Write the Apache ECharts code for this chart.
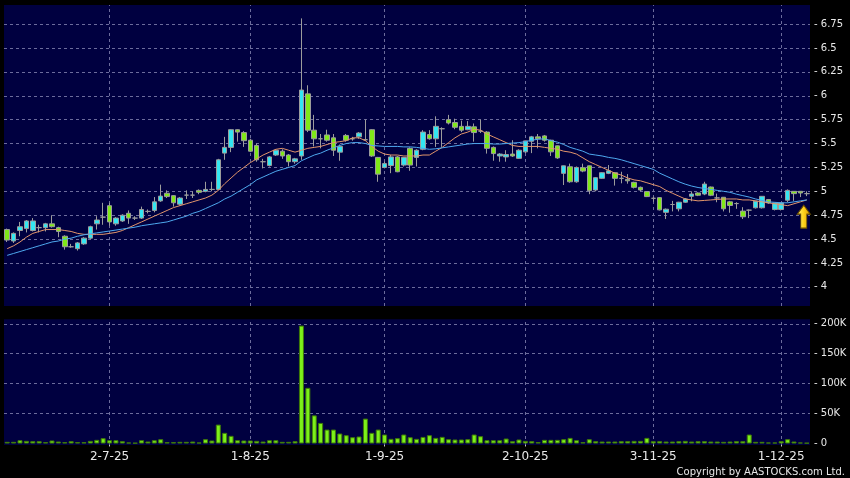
<!DOCTYPE html>
<html><head><meta charset="utf-8">
<script src="https://cdn.jsdelivr.net/npm/echarts@6/dist/echarts.min.js"></script>
<style>html,body{margin:0;padding:0;background:#000;}#c{width:850px;height:478px;}</style>
</head><body><div id="c"></div>
<script>
const dates = [
 '9-6-25','10-6-25','11-6-25','12-6-25','13-6-25','16-6-25','17-6-25','18-6-25','19-6-25','20-6-25','23-6-25','24-6-25','25-6-25','26-6-25','27-6-25','30-6-25',
 '2-7-25','3-7-25','4-7-25','7-7-25','8-7-25','9-7-25','10-7-25','11-7-25','14-7-25','15-7-25','16-7-25','17-7-25','18-7-25','21-7-25','22-7-25','23-7-25','24-7-25','25-7-25','28-7-25','29-7-25','30-7-25','31-7-25',
 '1-8-25','4-8-25','5-8-25','6-8-25','7-8-25','8-8-25','11-8-25','12-8-25','13-8-25','14-8-25','15-8-25','18-8-25','19-8-25','20-8-25','21-8-25','22-8-25','25-8-25','26-8-25','27-8-25','28-8-25','29-8-25',
 '1-9-25','2-9-25','3-9-25','4-9-25','5-9-25','8-9-25','9-9-25','10-9-25','11-9-25','12-9-25','15-9-25','16-9-25','17-9-25','18-9-25','19-9-25','22-9-25','23-9-25','24-9-25','25-9-25','26-9-25','29-9-25','30-9-25',
 '2-10-25','3-10-25','6-10-25','8-10-25','9-10-25','10-10-25','13-10-25','14-10-25','15-10-25','16-10-25','17-10-25','20-10-25','21-10-25','22-10-25','23-10-25','24-10-25','27-10-25','28-10-25','30-10-25','31-10-25',
 '3-11-25','4-11-25','5-11-25','6-11-25','7-11-25','10-11-25','11-11-25','12-11-25','13-11-25','14-11-25','17-11-25','18-11-25','19-11-25','20-11-25','21-11-25','24-11-25','25-11-25','26-11-25','27-11-25','28-11-25',
 '1-12-25','2-12-25','3-12-25','4-12-25','5-12-25'
];
const labelDates = ['2-7-25','1-8-25','1-9-25','2-10-25','3-11-25','1-12-25'];
const priceTicks = [4,4.25,4.5,4.75,5,5.25,5.5,5.75,6,6.25,6.5,6.75];
const volumeTicks = [0,50000,100000,150000,200000];

const opens = [
 4.60,4.48,4.59,4.61,4.59,4.62,4.62,4.66,4.62,4.53,
 4.42,4.40,4.45,4.51,4.66,4.73,4.85,4.66,4.69,4.77,
 4.72,4.72,4.79,4.80,4.90,4.98,4.955,4.865,4.96,4.96,
 5.01,5.00,5.02,5.02,5.40,5.46,5.645,5.615,5.535,5.48,
 5.31,5.27,5.38,5.42,5.38,5.31,5.37,6.02,5.64,5.55,
 5.59,5.56,5.41,5.585,5.55,5.57,5.54,5.645,5.355,5.25,
 5.27,5.36,5.275,5.45,5.355,5.44,5.594,5.55,5.655,5.75,
 5.72,5.68,5.645,5.675,5.63,5.62,5.46,5.37,5.36,5.39,
 5.345,5.413,5.524,5.57,5.58,5.535,5.476,5.188,5.257,5.10,
 5.247,5.267,5.014,5.136,5.188,5.195,5.136,5.125,5.094,5.042,
 4.997,4.927,4.934,4.78,4.862,4.817,4.886,4.948,4.983,4.972,
 5.045,4.931,4.938,4.89,4.872,4.793,4.803,4.828,4.828,4.914,
 4.81,4.81,4.907,5.0,5.0,4.976
];
const closes = [
 4.49,4.56,4.63,4.69,4.69,4.62,4.66,4.63,4.58,4.42,
 4.42,4.46,4.51,4.63,4.70,4.73,4.68,4.72,4.75,4.72,
 4.72,4.81,4.79,4.89,4.95,4.945,4.88,4.93,4.96,4.96,
 4.99,5.02,5.02,5.33,5.46,5.645,5.62,5.53,5.42,5.33,
 5.31,5.36,5.43,5.37,5.31,5.34,6.06,5.64,5.55,5.55,
 5.535,5.43,5.47,5.535,5.55,5.61,5.54,5.37,5.18,5.29,
 5.36,5.205,5.355,5.275,5.43,5.62,5.55,5.68,5.655,5.715,
 5.67,5.64,5.68,5.615,5.63,5.45,5.395,5.39,5.385,5.37,
 5.43,5.528,5.57,5.55,5.535,5.413,5.35,5.267,5.10,5.25,
 5.212,5.007,5.143,5.195,5.215,5.136,5.136,5.11,5.042,5.014,
 4.945,4.927,4.806,4.813,4.862,4.886,4.92,4.972,4.959,5.076,
 4.959,4.931,4.817,4.852,4.872,4.734,4.803,4.897,4.948,4.879,
 4.879,4.879,5.01,4.976,4.983,4.976
];
const lows = [
 4.47,4.46,4.53,4.57,4.58,4.57,4.58,4.62,4.52,4.39,
 4.41,4.38,4.44,4.50,4.60,4.65,4.64,4.64,4.68,4.66,
 4.70,4.71,4.77,4.78,4.89,4.93,4.84,4.85,4.92,4.93,
 4.97,4.99,5.00,5.01,5.33,5.41,5.52,5.465,5.41,5.31,
 5.24,5.26,5.37,5.34,5.26,5.29,5.33,5.62,5.47,5.45,
 5.52,5.37,5.32,5.52,5.53,5.55,5.53,5.36,5.10,5.24,
 5.19,5.20,5.26,5.215,5.26,5.43,5.54,5.465,5.465,5.70,
 5.65,5.62,5.64,5.52,5.61,5.395,5.32,5.31,5.31,5.36,
 5.34,5.40,5.40,5.45,5.52,5.37,5.34,5.066,5.09,5.09,
 5.20,4.97,5.00,5.13,5.18,5.06,5.084,5.08,5.03,5.00,
 4.94,4.89,4.80,4.71,4.79,4.79,4.88,4.896,4.95,4.96,
 4.95,4.886,4.79,4.776,4.817,4.71,4.72,4.82,4.82,4.87,
 4.80,4.80,4.885,4.90,4.94,4.95
];
const highs = [
 4.61,4.57,4.68,4.70,4.72,4.65,4.67,4.75,4.63,4.54,
 4.45,4.47,4.52,4.64,4.74,4.88,4.88,4.73,4.76,4.80,
 4.74,4.84,4.81,4.94,5.07,5.01,4.96,4.94,5.01,5.00,
 5.02,5.10,5.10,5.34,5.57,5.65,5.65,5.63,5.55,5.50,
 5.34,5.37,5.44,5.44,5.39,5.35,6.81,6.11,5.80,5.60,
 5.645,5.60,5.49,5.60,5.57,5.62,5.75,5.65,5.36,5.31,
 5.38,5.37,5.36,5.46,5.44,5.64,5.64,5.785,5.67,5.80,
 5.76,5.74,5.735,5.71,5.75,5.63,5.47,5.40,5.43,5.535,
 5.44,5.53,5.58,5.60,5.59,5.54,5.48,5.27,5.29,5.26,
 5.29,5.27,5.15,5.20,5.275,5.20,5.205,5.18,5.10,5.05,
 5.00,4.945,4.94,4.82,4.90,4.89,4.93,5.00,4.99,5.10,
 5.05,4.976,4.94,4.90,4.886,4.834,4.81,4.90,4.95,4.92,
 4.88,4.88,5.02,5.00,5.00,5.00
];
const ma10 = [
 4.40,4.43,4.47,4.52,4.56,4.58,4.60,4.60,4.60,4.59,
 4.58,4.56,4.55,4.55,4.55,4.55,4.56,4.57,4.59,4.62,
 4.65,4.68,4.71,4.74,4.77,4.80,4.83,4.85,4.87,4.89,
 4.91,4.93,4.96,5.01,5.08,5.14,5.20,5.25,5.30,5.34,
 5.38,5.41,5.44,5.45,5.43,5.41,5.43,5.45,5.46,5.47,
 5.49,5.51,5.52,5.53,5.56,5.56,5.53,5.47,5.42,5.39,
 5.38,5.38,5.37,5.37,5.37,5.38,5.38,5.42,5.46,5.51,
 5.56,5.60,5.62,5.65,5.64,5.60,5.57,5.54,5.51,5.48,
 5.47,5.47,5.47,5.47,5.46,5.45,5.44,5.42,5.41,5.39,
 5.35,5.31,5.28,5.25,5.22,5.19,5.17,5.14,5.12,5.11,
 5.09,5.07,5.05,5.01,4.98,4.95,4.92,4.91,4.90,4.905,
 4.91,4.915,4.92,4.92,4.92,4.91,4.91,4.90,4.89,4.88,
 4.87,4.86,4.85,4.87,4.89,4.91
];
const ma20 = [
 4.33,4.35,4.37,4.39,4.41,4.43,4.45,4.47,4.48,4.50,
 4.51,4.53,4.545,4.555,4.565,4.575,4.585,4.595,4.605,4.615,
 4.625,4.64,4.65,4.66,4.67,4.68,4.70,4.72,4.74,4.77,
 4.79,4.82,4.85,4.88,4.92,4.95,4.99,5.03,5.07,5.12,
 5.15,5.18,5.21,5.23,5.25,5.27,5.32,5.35,5.38,5.40,
 5.43,5.455,5.48,5.50,5.51,5.51,5.50,5.48,5.475,5.47,
 5.47,5.47,5.465,5.465,5.46,5.45,5.44,5.445,5.455,5.465,
 5.475,5.485,5.495,5.50,5.50,5.50,5.495,5.495,5.50,5.505,
 5.51,5.52,5.535,5.545,5.55,5.53,5.515,5.49,5.46,5.44,
 5.42,5.39,5.38,5.37,5.355,5.345,5.33,5.31,5.29,5.27,
 5.25,5.23,5.19,5.16,5.13,5.10,5.075,5.055,5.04,5.03,
 5.02,5.01,5.00,4.99,4.97,4.955,4.94,4.92,4.905,4.89,
 4.885,4.88,4.88,4.89,4.90,4.91
];
const volumes = [
 2800,2800,5500,4400,3900,3900,2200,5000,3300,2200,
 3900,2200,2200,4400,6100,8900,5500,5500,3900,1700,
 1100,5500,3300,5500,7200,2200,2200,2800,2800,3300,
 1700,7200,5000,31600,17800,12800,5500,5000,5000,4400,
 3300,5500,5500,2800,2800,3900,197000,93000,47000,34400,
 23300,23300,16700,13900,10500,11700,41600,17800,23300,15000,
 7800,8900,15000,10500,7800,11000,13900,9400,11100,7200,
 6700,6700,7200,15000,12200,5500,5500,5500,8300,3900,
 6700,4400,3900,2200,6100,6100,6100,7200,9400,5500,
 2200,7200,3900,3300,3300,3300,3900,3900,4400,4400,
 9400,3900,3900,3300,3300,3900,4400,3300,3900,3900,
 3300,3300,2800,3300,3900,3900,15000,2800,2800,1700,
 1700,3900,7200,3300,1700,1100
];

const CYAN = '#33e6f2', GREEN = '#80e818', WICK = '#9c9c9c';
const candleData = dates.map((d, i) => {
  const item = { value: [opens[i], closes[i], lows[i], highs[i]] };
  if (opens[i] === closes[i]) {
    item.itemStyle = { color: WICK, color0: WICK, borderColor: WICK, borderColor0: WICK };
  }
  return item;
});

const isLabelDate = (idx, val) => labelDates.indexOf(val) >= 0;
const near = (arr, v) => arr.some(t => Math.abs(t - v) < 1e-6);
const gridLine = { color: '#6c6c9c', type: [3, 3], width: 1 };
const TXT = '#e8e8e8';

const chart = echarts.init(document.getElementById('c'), null, { renderer: 'canvas' });
chart.setOption({
  animation: false,
  backgroundColor: '#000000',
  grid: [
    { left: 4, right: 40, top: 5, height: 301, show: true, backgroundColor: '#000040', borderWidth: 0 },
    { left: 4, right: 40, top: 319.3, height: 125.7, show: true, backgroundColor: '#000040', borderWidth: 0 }
  ],
  xAxis: [
    { gridIndex: 0, type: 'category', data: dates, boundaryGap: true,
      axisLine: { show: false }, axisTick: { show: false }, axisLabel: { show: false }, splitLine: { show: false } },
    { gridIndex: 1, type: 'category', data: dates, boundaryGap: true,
      axisLine: { show: false },
      axisTick: { show: true, alignWithLabel: true, interval: isLabelDate, length: 3, lineStyle: { color: '#c8c8c8' } },
      axisLabel: { show: true, interval: isLabelDate, color: TXT, fontFamily: 'DejaVu Sans', fontSize: 12, margin: 6 },
      splitLine: { show: false } }
  ],
  yAxis: [
    { gridIndex: 0, type: 'value', position: 'right', min: 3.8, max: 6.95, interval: 0.05,
      axisLine: { show: false }, axisTick: { show: false }, splitLine: { show: false },
      axisLabel: { color: TXT, fontFamily: 'DejaVu Sans', fontSize: 10, margin: 4,
        formatter: v => near(priceTicks, v) ? '- ' + String(Number(v.toFixed(2))) : '' } },
    { gridIndex: 1, type: 'value', position: 'right', min: -2500, max: 207500, interval: 2500,
      axisLine: { show: false }, axisTick: { show: false }, splitLine: { show: false },
      axisLabel: { color: TXT, fontFamily: 'DejaVu Sans', fontSize: 10, margin: 4,
        formatter: v => near(volumeTicks, v) ? '- ' + (v === 0 ? '0' : Math.round(v / 1000) + 'K') : '' } }
  ],
  series: [
    { type: 'candlestick', xAxisIndex: 0, yAxisIndex: 0, data: candleData, barWidth: 5, z: 3,
      itemStyle: { color: CYAN, color0: GREEN, borderColor: WICK, borderColor0: WICK, borderWidth: 1 },
      markLine: { silent: true, symbol: 'none', z: 1, animation: false, label: { show: false },
        lineStyle: gridLine, emphasis: { disabled: true },
        data: priceTicks.map(v => ({ yAxis: v })).concat(labelDates.map(d => ({ xAxis: d }))) } },
    { type: 'line', xAxisIndex: 0, yAxisIndex: 0, data: ma10, symbol: 'none', z: 4,
      lineStyle: { color: '#e3956b', width: 1 } },
    { type: 'line', xAxisIndex: 0, yAxisIndex: 0, data: ma20, symbol: 'none', z: 4,
      lineStyle: { color: '#4ea8ee', width: 1 },
      markPoint: { silent: true, animation: false, label: { show: false },
        data: [{ coord: [dates[dates.length - 1], 4.735],
          symbol: 'path://M6.5,0 L13,9 L9.5,9 L9.5,23 L3.5,23 L3.5,9 L0,9 Z',
          symbolSize: [13, 23], symbolOffset: [-3, 0], symbolKeepAspect: false,
          itemStyle: { color: { type: 'linear', x: 0, y: 0, x2: 1, y2: 0,
            colorStops: [{ offset: 0, color: '#fff27a' }, { offset: 0.5, color: '#ffd21a' }, { offset: 1, color: '#d89400' }] },
            borderColor: '#6a4c00', borderWidth: 1 } }] } },
    { type: 'bar', xAxisIndex: 1, yAxisIndex: 1, data: volumes, barWidth: 5, z: 3,
      itemStyle: { color: '#7cf01a', borderColor: '#3f7a08', borderWidth: 1 },
      markLine: { silent: true, symbol: 'none', z: 1, animation: false, label: { show: false },
        lineStyle: gridLine, emphasis: { disabled: true },
        data: volumeTicks.filter(v => v > 0).map(v => ({ yAxis: v })).concat(labelDates.map(d => ({ xAxis: d }))) } }
  ],
  graphic: [
    { type: 'text', right: 5, bottom: 1,
      style: { text: 'Copyright by AASTOCKS.com Ltd.', fill: TXT, font: '10px "DejaVu Sans"' } }
  ]
});
</script>
</body></html>
